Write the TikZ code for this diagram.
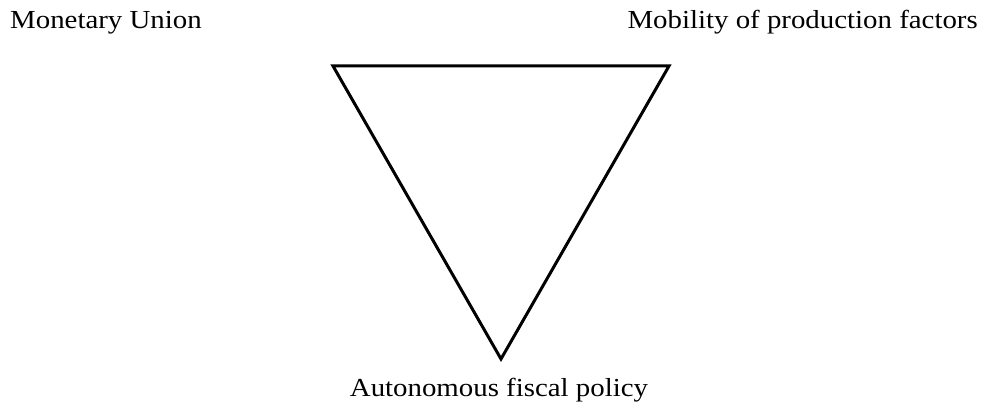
\documentclass[tikz,border=0pt]{standalone}
\usepackage{fontspec}
\setmainfont{Liberation Serif}[FakeStretch=1.11]
\usetikzlibrary{positioning, calc}

\begin{document}
\begin{tikzpicture}[x=1pt, y=1pt,
        lbl/.style={inner sep=0pt, font=\fontsize{26}{30}\selectfont},
        edge/.style={line width=3pt, line join=miter}]
      \useasboundingbox (0,0) rectangle (985,411);
      \coordinate (TL) at (333,345);
      \coordinate (TR) at (669,345);
      \coordinate (BT) at (501,52);
      \node[lbl, anchor=base west] (MU) at (10,382) {Monetary Union};
      \node[lbl, anchor=base east] (MP) at (978,382) {Mobility of production factors};
      \node[lbl, anchor=base] (AF) at (499,14) {Autonomous fiscal policy};

      \draw[edge] (TL) -- (TR) -- (BT) -- cycle;
    \end{tikzpicture}
\end{document}
